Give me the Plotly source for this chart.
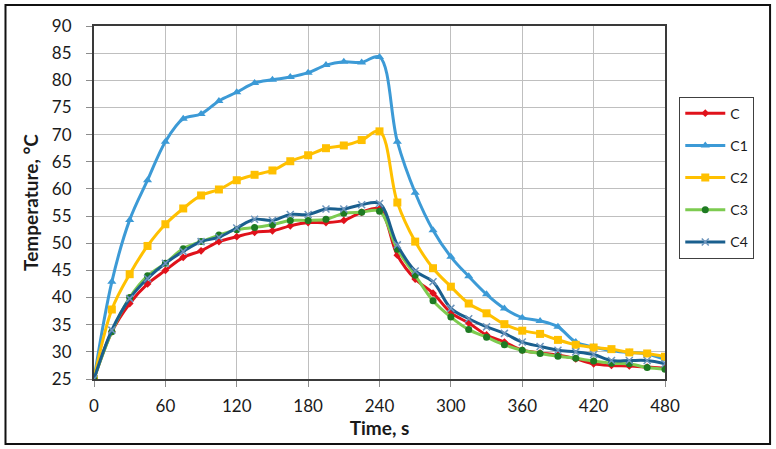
import plotly.graph_objects as go

time_s = [0, 15, 30, 45, 60, 75, 90, 105, 120, 135, 150, 165, 180, 195, 210, 225, 240,
          255, 270, 285, 300, 315, 330, 345, 360, 375, 390, 405, 420, 435, 450, 465, 480]

C = [25, 33.7, 38.9, 42.5, 45.0, 47.4, 48.6, 50.3, 51.2, 52.0, 52.3, 53.2, 53.8, 53.8, 54.2, 55.7, 56.3,
     47.8, 43.4, 40.8, 37.2, 35.3, 33.1, 31.8, 30.3, 29.8, 29.4, 28.7, 27.8, 27.5, 27.4, 27.2, 27.0]
C1 = [25, 42.9, 54.3, 61.6, 68.7, 72.9, 73.8, 76.2, 77.8, 79.5, 80.1, 80.6, 81.4, 82.8, 83.4, 83.3, 84.3,
      68.7, 59.3, 52.4, 47.5, 43.9, 40.6, 38.0, 36.3, 35.7, 34.6, 31.8, 30.9, 30.2, 29.9, 29.6, 28.6]
C2 = [25, 37.8, 44.3, 49.5, 53.5, 56.4, 58.8, 59.9, 61.6, 62.6, 63.4, 65.1, 66.2, 67.5, 68.0, 69.0, 70.6,
      57.5, 50.3, 45.4, 42.0, 38.9, 37.1, 35.1, 33.9, 33.3, 32.2, 31.3, 30.8, 30.5, 29.9, 29.7, 29.1]
C3 = [25, 33.7, 40.0, 44.0, 46.3, 49.0, 50.3, 51.5, 52.5, 52.9, 53.4, 54.2, 54.2, 54.4, 55.5, 55.7, 55.9,
      48.9, 44.1, 39.4, 36.4, 34.1, 32.7, 31.3, 30.3, 29.7, 29.2, 28.8, 28.3, 27.9, 27.8, 27.1, 26.8]
C4 = [25, 34.0, 39.8, 43.5, 46.3, 48.5, 50.3, 51.1, 52.8, 54.4, 54.2, 55.3, 55.3, 56.3, 56.3, 57.1, 57.3,
      49.7, 44.9, 42.9, 38.0, 36.1, 34.6, 33.4, 31.8, 31.0, 30.3, 30.0, 29.5, 28.4, 28.4, 28.4, 27.8]

x_ticks = [0, 60, 120, 180, 240, 300, 360, 420, 480]
y_ticks = [25, 30, 35, 40, 45, 50, 55, 60, 65, 70, 75, 80, 85, 90]

series = [
    ("C", C, "#E0121B", dict(symbol="diamond", size=6, color="#E0121B")),
    ("C1", C1, "#3C9AD6", dict(symbol="triangle-up", size=8, color="#3C9AD6")),
    ("C2", C2, "#FFC000", dict(symbol="square", size=8, color="#FFC000")),
    ("C3", C3, "#7DCB50", dict(symbol="circle", size=7, color="#1E7A22")),
    ("C4", C4, "#1A5F8E", dict(symbol="x-thin", size=7, color="#6E95BC",
                              line=dict(width=1.5, color="#6E95BC"))),
]

FONT = "Lato, 'Liberation Sans', sans-serif"

fig = go.Figure()
for name, vals, col, mk in series:
    fig.add_trace(go.Scatter(
        x=time_s, y=vals, name=name, mode="lines+markers",
        line=dict(color=col, width=3, shape="spline"),
        marker=mk, legendgroup=name,
    ))

fig.update_layout(
    width=776, height=449,
    margin=dict(l=94, r=111, t=26, b=70),
    paper_bgcolor="white", plot_bgcolor="white",
    font=dict(family=FONT, size=17, color="#1a1a1a"),
    showlegend=True,
    legend=dict(
        x=1.025, y=0.80, xanchor="left", yanchor="top",
        bordercolor="#404040", borderwidth=1,
        font=dict(family=FONT, size=14, color="#1a1a1a"),
        tracegroupgap=11, itemwidth=40,
    ),
    shapes=[dict(type="rect", xref="paper", yref="paper",
                 x0=-0.155, x1=1.184, y0=-0.184, y1=1.0595,
                 line=dict(color="#111111", width=2), fillcolor="rgba(0,0,0,0)",
                 layer="below")],
)
fig.update_xaxes(
    range=[0, 480], tickvals=x_ticks, ticktext=[str(v) for v in x_ticks],
    showgrid=True, gridcolor="#BFBFBF", gridwidth=1,
    showline=True, linecolor="#3a3a3a", linewidth=2, mirror=True,
    ticks="outside", ticklen=6, tickcolor="#8c8c8c",
    zeroline=False, ticklabelstandoff=5,
    title=dict(text="<b>Time, s</b>", font=dict(family=FONT, size=19), standoff=6),
)
fig.update_yaxes(
    range=[25, 90], tickvals=y_ticks, ticktext=[str(v) for v in y_ticks],
    showgrid=True, gridcolor="#BFBFBF", gridwidth=1,
    showline=True, linecolor="#3a3a3a", linewidth=2, mirror=True,
    ticks="outside", ticklen=6, tickcolor="#8c8c8c",
    zeroline=False, ticklabelstandoff=11,
    title=dict(text="<b>Temperature, °C</b>", font=dict(family=FONT, size=19), standoff=8),
)

fig.write_html("out.html", config={"displayModeBar": False},
               post_script="document.body.style.margin='0';")
